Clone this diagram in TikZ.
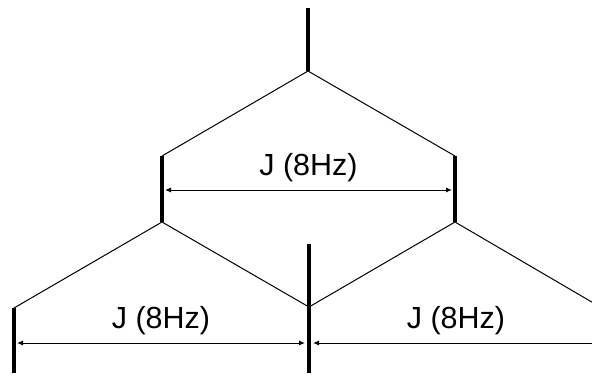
\documentclass[tikz,border=0pt]{standalone}
\usepackage{fontspec}
\setmainfont{Liberation Sans}
\usetikzlibrary{arrows.meta}

\begin{document}
\begin{tikzpicture}[
    x=1pt, y=-1pt,
    peak/.style={line width=4pt},
    split/.style={line width=1pt},
    arr/.style={{Latex[length=6pt,width=5pt]}-{Latex[length=6pt,width=5pt]}, line width=1pt},
    lbl/.style={font=\fontsize{30.5}{33}\selectfont, inner sep=0pt, above=8pt}
]
\useasboundingbox (0,0) rectangle (592,376);
\clip (0,0) rectangle (592,376);

% unsplit line
\coordinate (top) at (308,8);
\coordinate (root) at (308,71);
\draw[peak] (top) -- (root);

% first splitting
\coordinate (lhi) at (162,156);
\coordinate (llo) at (162,222);
\coordinate (rhi) at (455,156);
\coordinate (rlo) at (455,222);
\draw[split] (lhi) -- (root) -- (rhi);
\draw[peak] (lhi) -- (llo);
\draw[peak] (rhi) -- (rlo);

% second splitting
\coordinate (ohi) at (14,308);
\coordinate (olo) at (14,373);
\coordinate (chi) at (309,244);
\coordinate (cmid) at (309,307);
\coordinate (clo) at (309,373);
\coordinate (phi) at (602,308);
\coordinate (plo) at (602,373);
\draw[split] (ohi) -- (llo) -- (cmid) -- (rlo) -- (phi);
\draw[peak] (ohi) -- (olo);
\draw[peak] (chi) -- (clo);
\draw[peak] (phi) -- (plo);

% couplings
\draw[arr] (165,190) -- node[lbl] {J (8Hz)} (452,190);
\draw[arr] (17,343) -- node[lbl] {J (8Hz)} (305,343);
\draw[arr] (313,343) -- node[lbl] {J (8Hz)} (599,343);

\end{tikzpicture}
\end{document}
